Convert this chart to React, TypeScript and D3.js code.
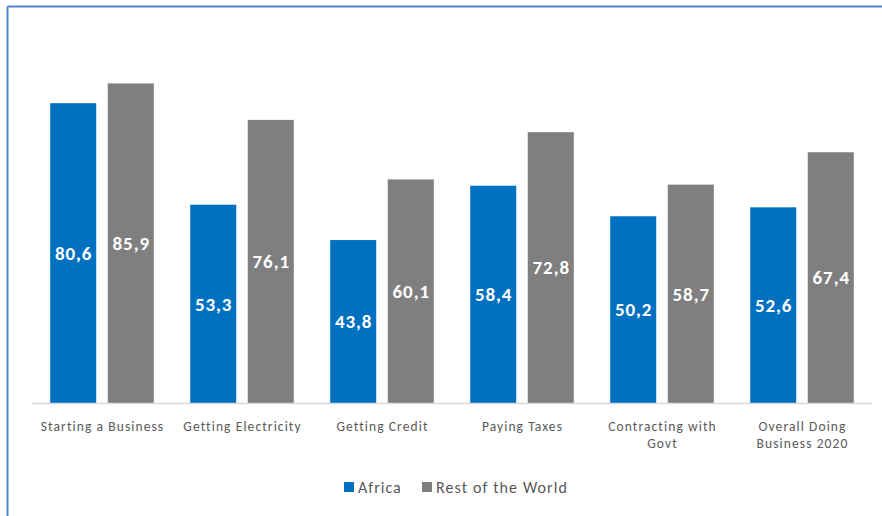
import React from "react";
import * as d3 from "d3";

const categories: string[][] = [
  ["Starting a Business"],
  ["Getting Electricity"],
  ["Getting Credit"],
  ["Paying Taxes"],
  ["Contracting with", "Govt"],
  ["Overall Doing", "Business 2020"],
];
const africa = [80.6, 53.3, 43.8, 58.4, 50.2, 52.6];
const restOfWorld = [85.9, 76.1, 60.1, 72.8, 58.7, 67.4];
const seriesNames = ["Africa", "Rest of the World"];
const seriesColors = ["#0070C0", "#7F7F7F"];

const W = 882;
const H = 516;
const font = "Carlito, Lato, 'Liberation Sans', sans-serif";

export default function App() {
  const x0 = d3
    .scaleBand<number>()
    .domain(categories.map((_, i) => i))
    .range([32, 872])
    .paddingInner(0.26)
    .paddingOuter(0.13);
  const x1 = d3.scaleBand<number>().domain([0, 1]).range([0, x0.bandwidth()]).paddingInner(0.2);
  const y = d3.scaleLinear().domain([0, 100]).range([403, 31]);
  const series = [africa, restOfWorld];
  const fmt = (v: number) => v.toFixed(1).replace(".", ",");

  return (
    <svg
      width={W}
      height={H}
      style={{ position: "absolute", left: 0, top: 0, background: "#fff" }}
      fontFamily={font}
    >
      <line x1={7.5} y1={6.5} x2={W} y2={6.5} stroke="#5582d4" strokeWidth={2} />
      <line x1={7.5} y1={6.5} x2={7.5} y2={H} stroke="#5582d4" strokeWidth={2} />
      {categories.map((cat, i) => (
        <g key={i} transform={`translate(${x0(i)},0)`}>
          {series.map((s, j) => {
            const bx = x1(j)!;
            const top = y(s[i]);
            return (
              <g key={j}>
                <rect x={bx} y={top} width={x1.bandwidth()} height={y(0) - top} fill={seriesColors[j]} />
                <text
                  x={bx + x1.bandwidth() / 2 + 0.5}
                  y={(top + y(0)) / 2}
                  dy="0.36em"
                  textAnchor="middle"
                  fill="#fff"
                  fontWeight="bold"
                  fontSize={19}
                  letterSpacing={0.9}
                >
                  {fmt(s[i])}
                </text>
              </g>
            );
          })}
          {cat.map((line, k) => (
            <text
              key={k}
              x={x0.bandwidth() / 2 + 0.5}
              y={431 + k * 17}
              textAnchor="middle"
              fill="#595959"
              fontSize={13.5}
              letterSpacing={1.1}
            >
              {line}
            </text>
          ))}
        </g>
      ))}
      <line x1={32} x2={872} y1={403.5} y2={403.5} stroke="#d9d9d9" strokeWidth={1.5} />
      <g>
        <rect x={344} y={482} width={10} height={10} fill={seriesColors[0]} />
        <text x={358} y={493} fill="#595959" fontSize={16} letterSpacing={1}>
          {seriesNames[0]}
        </text>
        <rect x={422} y={482} width={10} height={10} fill={seriesColors[1]} />
        <text x={436} y={493} fill="#595959" fontSize={16} letterSpacing={1.1}>
          {seriesNames[1]}
        </text>
      </g>
    </svg>
  );
}
